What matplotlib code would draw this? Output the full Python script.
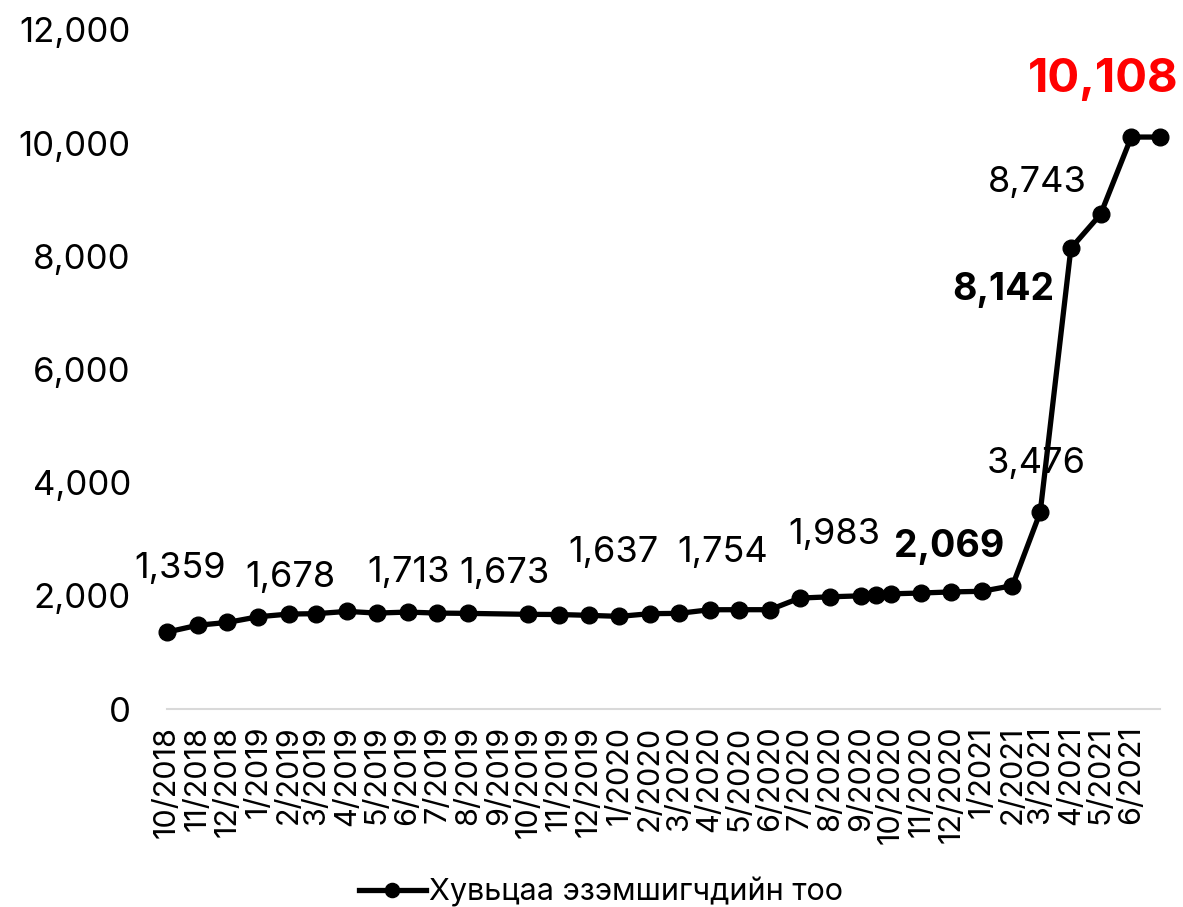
import matplotlib
matplotlib.use("Agg")
import matplotlib.pyplot as plt
import pandas as pd

plt.rcParams['font.family'] = ['Inter', 'DejaVu Sans']

# data (monthly snapshots, one extra mid-Sept 2020 point, no Sept 2019)
dates = ['2018-10-01', '2018-11-01', '2018-12-01', '2019-01-01', '2019-02-01', '2019-03-01',
         '2019-04-01', '2019-05-01', '2019-06-01', '2019-07-01', '2019-08-01', '2019-10-01',
         '2019-11-01', '2019-12-01', '2020-01-01', '2020-02-01', '2020-03-01', '2020-04-01',
         '2020-05-01', '2020-06-01', '2020-07-01', '2020-08-01', '2020-09-01', '2020-09-16',
         '2020-10-01', '2020-11-01', '2020-12-01', '2021-01-01', '2021-02-01', '2021-03-01',
         '2021-04-01', '2021-05-01', '2021-06-01', '2021-06-30']
holders = [1359, 1480, 1530, 1630, 1678, 1685, 1725, 1695, 1713, 1695, 1690, 1673,
           1670, 1655, 1637, 1685, 1690, 1754, 1755, 1755, 1960, 1983, 2000, 2010,
           2035, 2050, 2069, 2080, 2180, 3476, 8142, 8743, 10108, 10108]
series_name = 'Хувьцаа эзэмшигчдийн тоо'

# labelled points: date, text, style
label_dates = ['2018-10-01', '2019-02-01', '2019-06-01', '2019-10-01', '2020-01-01',
               '2020-04-01', '2020-08-01', '2020-12-01', '2021-03-01', '2021-04-01',
               '2021-05-01', '2021-06-01']
label_styles = ['n', 'n', 'n', 'n', 'n', 'n', 'n', 'b', 'n', 'b', 'n', 'r']

x = pd.to_datetime(dates)
lookup = dict(zip(dates, holders))

fig = plt.figure(figsize=(11.83, 9.07), dpi=100)
ax = fig.add_axes([167/1183, 1-709/907, (1160-167)/1183, (709-30)/907])

line, = ax.plot(x, holders, color='black', lw=3.8, marker='o', ms=12, clip_on=False,
                label=series_name, zorder=3)

ax.set_xlim(x[0], x[-1])
ax.set_ylim(0, 12000)
ax.set_yticks(range(0, 12001, 2000))
ax.yaxis.set_major_formatter(matplotlib.ticker.FuncFormatter(lambda v, p: f'{int(v):,}'))

ticks = pd.date_range('2018-10-01', '2021-06-01', freq='MS')
ax.set_xticks(ticks)
ax.set_xticklabels([f'{d.month}/{d.year}' for d in ticks], rotation=90)

ax.tick_params(axis='y', length=0, pad=26, labelsize=25)
ax.tick_params(axis='x', length=0, pad=12, labelsize=22)
for s in ['left', 'right', 'top']:
    ax.spines[s].set_visible(False)
ax.spines['bottom'].set_color('#d9d9d9')
ax.spines['bottom'].set_linewidth(1.5)
ax.patch.set_alpha(0)

# label offsets in pixels
offsets = [(13, 64), (2, 37), (1, 40), (-24, 41), (-6, 64), (13, 57), (4, 62),
           (-2, 45), (-4, 49), (-17, -42), (-63, 32), (-28, 57)]
for d, st, off in zip(label_dates, label_styles, offsets):
    v = lookup[d]
    kw = dict(fontsize=26, color='black', fontweight='normal', ha='center')
    if st == 'b':
        kw.update(fontweight='bold', fontsize=27)
    if st == 'r':
        kw.update(fontweight='bold', fontsize=34, color='#ff0000')
    if d == '2021-04-01':
        kw['ha'] = 'right'
    ax.annotate(f'{v:,}', xy=(pd.Timestamp(d), v), xytext=off, textcoords='offset pixels',
                va='center', **kw)

fig.legend(handles=[line], loc='center', bbox_to_anchor=(601/1183, 1-892/907),
           frameon=False, fontsize=22, handlelength=2.2, handletextpad=0.1,
           borderpad=0, markerscale=0.85)

fig.savefig('out.png', dpi=100, facecolor='white')
